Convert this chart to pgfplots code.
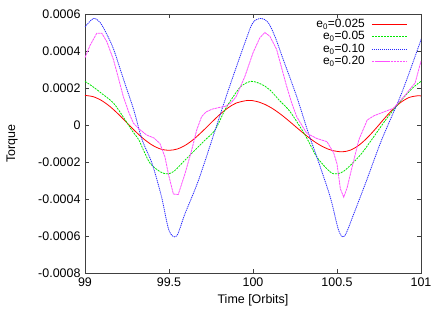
\documentclass[border=0pt]{standalone}
\usepackage{fontspec}
\setmainfont{Liberation Sans}
\usepackage{pgfplots}
\pgfplotsset{compat=1.18}
\definecolor{gpred}{RGB}{255,0,0}
\definecolor{gpgreen}{RGB}{0,230,0}
\definecolor{gpblue}{RGB}{40,40,255}
\definecolor{gpmag}{RGB}{255,80,255}
\begin{document}
\begin{tikzpicture}
\useasboundingbox (-85bp,-36bp) rectangle (357bp,273bp);
\begin{axis}[
  scale only axis, width=336bp, height=259bp,
  xmin=99, xmax=101, ymin=-0.0008, ymax=0.0006,
  font=\fontsize{12.5}{13}\selectfont,
  /pgf/number format/assume math mode=true,
  xtick={99,99.5,100,100.5,101},
  xticklabels={99,99.5,100,100.5,101},
  ytick={-0.0008,-0.0006,-0.0004,-0.0002,0,0.0002,0.0004,0.0006},
  yticklabels={-0.0008,-0.0006,-0.0004,-0.0002,0,0.0002,0.0004,0.0006},
  scaled y ticks=false,
  tick align=inside, major tick length=4bp,
  axis line style={black!75, line width=0.6pt},
  tick style={black!75, line width=0.5pt},
  xlabel={Time [Orbits]}, ylabel={Torque},
  xlabel style={at={(axis description cs:0.5,-0.104)}, anchor=center},
  ylabel style={at={(axis description cs:-0.217,0.5)}, anchor=center},
  yticklabel style={xshift=-1bp},
  xticklabel style={yshift=-1bp},
]
\addplot[draw=gpred, line width=0.8pt, smooth] coordinates {
(99.00,0.00016) (99.05,0.0001527) (99.10,0.0001316) (99.15,0.0000988) (99.20,0.0000574)
(99.25,0.0000115) (99.30,-0.0000344) (99.35,-0.0000758) (99.40,-0.0001086) (99.45,-0.000130)
(99.50,-0.000137) (99.55,-0.0001296) (99.60,-0.000108) (99.65,-0.0000748) (99.70,-0.0000333)
(99.75,0.0000114) (99.80,0.0000548) (99.85,0.0000918) (99.90,0.0001185) (99.97,0.000133)
(100.02,0.0001276) (100.07,0.0001117) (100.12,0.0000866) (100.17,0.0000543) (100.22,0.0000172)
(100.27,-0.0000216) (100.32,-0.0000592) (100.37,-0.0000926) (100.42,-0.0001193) (100.47,-0.0001372)
(100.53,-0.000145) (100.58,-0.0001359) (100.63,-0.0001096) (100.68,-0.0000693) (100.73,-0.0000199)
(100.78,0.0000329) (100.83,0.0000823) (100.88,0.0001226) (100.93,0.0001489) (100.98,0.000158)
(101.00,0.000157)
};
\addplot[draw=gpgreen, line width=0.8pt, dash pattern=on 2bp off 1bp, smooth] coordinates {
(99.00,0.000236) (99.05,0.000205) (99.10,0.00017) (99.17,0.000118) (99.23,0.00004)
(99.28,-0.00003) (99.32,-0.00008) (99.35,-0.00014) (99.39,-0.00021) (99.45,-0.000254)
(99.49,-0.000264) (99.53,-0.00025) (99.595,-0.00019) (99.65,-0.00014) (99.714,-0.000082)
(99.774,-0.000027) (99.833,0.000082) (99.88,0.00015) (99.93,0.00021) (99.99,0.000236)
(100.05,0.00022) (100.10,0.00019) (100.16,0.00013) (100.22,0.000073) (100.31,-0.000054)
(100.38,-0.000173) (100.46,-0.000254) (100.50,-0.000264) (100.54,-0.00025) (100.60,-0.0002)
(100.65,-0.00015) (100.706,-0.00008) (100.80,0.00004) (100.885,0.000136) (100.95,0.0002)
(101.00,0.000236)
};
\addplot[draw=gpblue, line width=0.8pt, dash pattern=on 1.2bp off 0.8bp, smooth] coordinates {
(99.00,0.00053) (99.05,0.000576) (99.09,0.000554) (99.13,0.00049) (99.17,0.00041)
(99.23,0.000245) (99.29,0.000082) (99.34,-0.00008) (99.40,-0.00021) (99.456,-0.00039)
(99.50,-0.00057) (99.545,-0.0006) (99.595,-0.00048) (99.675,-0.0003) (99.774,-0.00003)
(99.85,0.00018) (99.952,0.000445) (100.00,0.000554) (100.05,0.000576) (100.09,0.000554)
(100.13,0.00048) (100.18,0.000354) (100.26,0.000154) (100.33,-0.000045) (100.38,-0.000173)
(100.46,-0.00039) (100.51,-0.00057) (100.545,-0.0006) (100.60,-0.00048) (100.68,-0.00029)
(100.766,-0.00008) (100.885,0.000173) (100.994,0.000445) (101.00,0.00046)
};
\addplot[draw=gpmag, line width=0.8pt, dash pattern=on 2.5bp off 0.6bp] coordinates {
(99.00,0.000364) (99.03,0.00043) (99.07,0.000496) (99.10,0.000496) (99.13,0.00045)
(99.169,0.000354) (99.20,0.00025) (99.228,0.000154) (99.26,0.00007) (99.288,0.00001)
(99.32,-0.00002) (99.367,-0.000054) (99.41,-0.00007) (99.446,-0.0001) (99.476,-0.000173)
(99.496,-0.000264) (99.526,-0.000373) (99.555,-0.000376) (99.575,-0.00032) (99.595,-0.000264)
(99.635,-0.000136) (99.665,-0.000027) (99.694,0.000045) (99.72,0.00007) (99.754,0.000085)
(99.80,0.000095) (99.833,0.0001) (99.87,0.00012) (99.90,0.000154) (99.952,0.000263)
(100.00,0.00039) (100.04,0.00047) (100.07,0.0005) (100.10,0.00048) (100.14,0.00041)
(100.17,0.00031) (100.20,0.00021) (100.23,0.00012) (100.26,0.000045) (100.32,-0.000045)
(100.38,-0.000073) (100.44,-0.00009) (100.48,-0.00015) (100.50,-0.00021) (100.52,-0.000345)
(100.54,-0.00039) (100.56,-0.00034) (100.58,-0.000264) (100.63,-0.00008) (100.68,0.000027)
(100.72,0.00005) (100.76,0.000064) (100.835,0.00009) (100.905,0.00016) (100.94,0.0002)
(100.965,0.000227) (101.00,0.000345)
};
% legend samples
\addplot[draw=gpred, line width=0.8pt] coordinates {(100.708,0.000546) (100.917,0.000546)};
\addplot[draw=gpgreen, line width=0.8pt, dash pattern=on 2bp off 1bp] coordinates {(100.708,0.000481) (100.917,0.000481)};
\addplot[draw=gpblue, line width=0.8pt, dash pattern=on 1.2bp off 0.8bp] coordinates {(100.708,0.000411) (100.917,0.000411)};
\addplot[draw=gpmag, line width=0.8pt, dash pattern=on 2.5bp off 0.6bp] coordinates {(100.708,0.000346) (100.917,0.000346)};
\node[anchor=base east, inner sep=0pt, font=\fontsize{12}{12}\selectfont] at (axis cs:100.667,0.000526) {e\textsubscript{0}=0.025};
\node[anchor=base east, inner sep=0pt, font=\fontsize{12}{12}\selectfont] at (axis cs:100.667,0.000461) {e\textsubscript{0}=0.05};
\node[anchor=base east, inner sep=0pt, font=\fontsize{12}{12}\selectfont] at (axis cs:100.667,0.000391) {e\textsubscript{0}=0.10};
\node[anchor=base east, inner sep=0pt, font=\fontsize{12}{12}\selectfont] at (axis cs:100.667,0.000326) {e\textsubscript{0}=0.20};
\end{axis}
\end{tikzpicture}
\end{document}
